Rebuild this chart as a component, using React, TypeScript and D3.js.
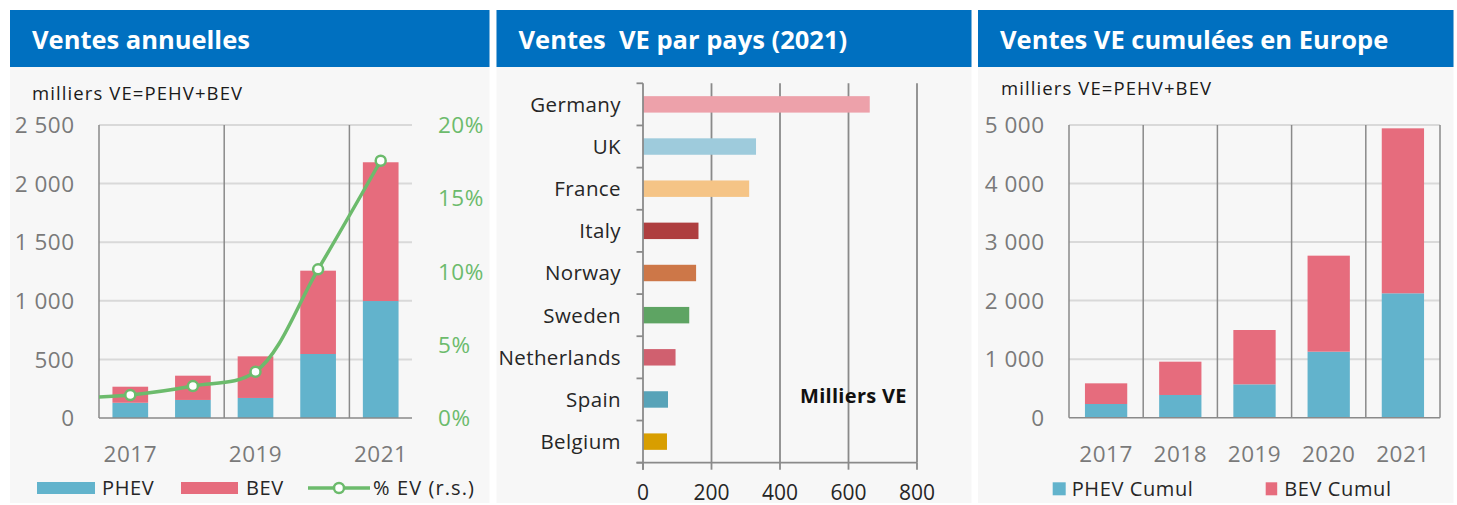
import React from "react";
import * as d3 from "d3";

// ---------- data ----------
const years = ["2017", "2018", "2019", "2020", "2021"];
const phevAnnual = [130, 154, 171, 546, 998];
const bevAnnual = [137, 207, 355, 711, 1184];
// % EV share (right scale); first value is 2016 (clipped at plot edge)
const shareYears = ["2016", "2017", "2018", "2019", "2020", "2021"];
const evShare = [1.35, 1.57, 2.18, 3.16, 10.15, 17.56];
const annualTicks = [0, 500, 1000, 1500, 2000, 2500];
const shareTicks = [0, 5, 10, 15, 20];
const annualXLabels = ["2017", "2019", "2021"];

const countries = ["Germany", "UK", "France", "Italy", "Norway", "Sweden", "Netherlands", "Spain", "Belgium"];
const countrySales = [662, 330, 310, 162, 155, 135, 95, 73, 70];
const countryColors = ["#eda1aa", "#9ecbdc", "#f5c486", "#ae3e3f", "#cd7748", "#5ea463", "#d0606f", "#58a3b8", "#d89e00"];
const countryTicks = [0, 200, 400, 600, 800];

const phevCumul = [234, 388, 570, 1128, 2125];
const bevCumul = [353, 569, 928, 1640, 2818];
const cumulTicks = [0, 1000, 2000, 3000, 4000, 5000];

// ---------- style ----------
const FONT = "'Open Sans', sans-serif";
const BLUE = "#0070c0";
const BG = "#f7f7f7";
const PHEV = "#62b3cc";
const BEV = "#e66c7d";
const GREEN = "#6cbb6c";
const GRID = "#d9d9d9";
const AXIS = "#8a8a8a";
const TICKTXT = "#7a7a7a";
const DARK = "#262626";

const TICK = { fontFamily: FONT, fontSize: 22.5, letterSpacing: 0.5 };
const LEG = { fontFamily: FONT, fontSize: 20, letterSpacing: 0.6 };
const NOTE = { fontFamily: FONT, fontSize: 18.5, letterSpacing: 1.1 };

const fmtSp = (v: number) => d3.format(",")(v).replace(/,/g, " ");

function Panel({ x, w, title }: { x: number; w: number; title: string }) {
  return (
    <g>
      <rect x={x} y={10} width={w} height={493} fill={BG} />
      <rect x={x} y={10} width={w} height={57} fill={BLUE} />
      <text x={x + 22} y={48.5} fill="#fff" fontFamily={FONT} fontWeight={700} fontSize={25.5} style={{ whiteSpace: "pre" }}>
        {title}
      </text>
    </g>
  );
}

function AnnualChart() {
  const x0 = 99, x1 = 412, yTop = 125, yBot = 418;
  const x = d3.scaleBand<string>().domain(years).range([x0, x1]).paddingInner(0.43).paddingOuter(0.215);
  const step = (x1 - x0) / years.length;
  const cx = (i: number) => x0 + step * (i + 0.5);
  const y = d3.scaleLinear().domain([0, 2500]).range([yBot, yTop]);
  const yr = d3.scaleLinear().domain([0, 20]).range([yBot, yTop]);
  const lineGen = d3
    .line<number>()
    .x((_, i) => cx(i - 1))
    .y((d) => yr(d))
    .curve(d3.curveCatmullRom.alpha(0.5));
  const boundaries = [0, 2, 4].map((i) => x0 + step * i);
  return (
    <g>
      <defs>
        <clipPath id="clip1">
          <rect x={x0} y={yTop - 10} width={x1 - x0 + 20} height={yBot - yTop + 20} />
        </clipPath>
      </defs>
      <text x={32} y={100} {...NOTE} fill="#1a1a1a">milliers VE=PEHV+BEV</text>
      {annualTicks.map((t) => (
        <g key={t}>
          {t > 0 && <line x1={x0} x2={x1} y1={y(t)} y2={y(t)} stroke={GRID} strokeWidth={2} />}
          <text x={74.5} y={y(t)} dy="0.36em" textAnchor="end" {...TICK} fill={TICKTXT}>
            {fmtSp(t)}
          </text>
        </g>
      ))}
      {shareTicks.map((t) => (
        <text key={t} x={438} y={yr(t)} dy="0.36em" {...TICK} fill={GREEN}>
          {t}%
        </text>
      ))}
      {boundaries.map((b, i) => (
        <line key={i} x1={b} x2={b} y1={yTop} y2={yBot} stroke={AXIS} strokeWidth={1.5} />
      ))}
      {years.map((yv, i) => (
        <g key={yv}>
          <rect x={x(yv)} y={y(phevAnnual[i])} width={x.bandwidth()} height={yBot - y(phevAnnual[i])} fill={PHEV} />
          <rect
            x={x(yv)}
            y={y(phevAnnual[i] + bevAnnual[i])}
            width={x.bandwidth()}
            height={y(phevAnnual[i]) - y(phevAnnual[i] + bevAnnual[i])}
            fill={BEV}
          />
        </g>
      ))}
      <line x1={x0} x2={x1} y1={yBot} y2={yBot} stroke={AXIS} strokeWidth={1.5} />
      <g clipPath="url(#clip1)">
        <path d={lineGen(evShare) || ""} fill="none" stroke={GREEN} strokeWidth={3.5} />
        {evShare.map((v, i) =>
          i === 0 ? null : <circle key={shareYears[i]} cx={cx(i - 1)} cy={yr(v)} r={5} fill="#fff" stroke={GREEN} strokeWidth={2.5} />
        )}
      </g>
      {annualXLabels.map((l) => (
        <text key={l} x={cx(years.indexOf(l))} y={453.5} dy="0.36em" textAnchor="middle" {...TICK} fill={TICKTXT}>
          {l}
        </text>
      ))}
      {/* legend */}
      <rect x={37} y={482} width={58} height={12} fill={PHEV} />
      <text x={102} y={488} dy="0.36em" {...LEG} fill={DARK}>PHEV</text>
      <rect x={181} y={482} width={57} height={12} fill={BEV} />
      <text x={246} y={488} dy="0.36em" {...LEG} fill={DARK}>BEV</text>
      <line x1={308} x2={370} y1={488} y2={488} stroke={GREEN} strokeWidth={3.5} />
      <circle cx={339} cy={488} r={5} fill="#fff" stroke={GREEN} strokeWidth={2.5} />
      <text x={373} y={488} dy="0.36em" {...LEG} letterSpacing={1.1} fill={DARK}>% EV (r.s.)</text>
    </g>
  );
}

function CountryChart() {
  const x0 = 643, x1 = 917, yTop = 83.3, yBot = 462.7;
  const x = d3.scaleLinear().domain([0, 800]).range([x0, x1]);
  const y = d3.scaleBand<string>().domain(countries).range([yTop, yBot]).paddingInner(0.61).paddingOuter(0.305);
  const step = (yBot - yTop) / countries.length;
  return (
    <g>
      {countryTicks.map((t) => (
        <g key={t}>
          {t > 0 && <line x1={x(t)} x2={x(t)} y1={yTop} y2={yBot} stroke={AXIS} strokeWidth={1.8} />}
          <line x1={x(t)} x2={x(t)} y1={yBot} y2={yBot + 7} stroke={AXIS} strokeWidth={1.8} />
          <text x={x(t)} y={492.5} dy="0.36em" textAnchor="middle" fontFamily={FONT} fontSize={21} fill={DARK}>
            {t}
          </text>
        </g>
      ))}
      {countries.map((c, i) => (
        <g key={c}>
          <rect x={x0} y={y(c)} width={x(countrySales[i]) - x0} height={y.bandwidth()} fill={countryColors[i]} />
          <text x={621} y={(y(c) || 0) + y.bandwidth() / 2} dy="0.36em" textAnchor="end" fontFamily={FONT} fontSize={20.5} letterSpacing={0.4} fill={DARK}>
            {c}
          </text>
        </g>
      ))}
      {d3.range(countries.length + 1).map((i) => (
        <line key={i} x1={x0 - 6.5} x2={x0} y1={yTop + step * i} y2={yTop + step * i} stroke={AXIS} strokeWidth={1.8} />
      ))}
      <line x1={x0} x2={x0} y1={yTop} y2={yBot + 7} stroke={AXIS} strokeWidth={1.8} />
      <line x1={x0 - 6.5} x2={x1} y1={yBot} y2={yBot} stroke={AXIS} strokeWidth={1.8} />
      <text x={800} y={396} dy="0.36em" fontFamily={FONT} fontWeight={700} fontSize={20} letterSpacing={0.3} fill="#111">Milliers VE</text>
    </g>
  );
}

function CumulChart() {
  const x0 = 1069, x1 = 1440, yTop = 125, yBot = 417.7;
  const x = d3.scaleBand<string>().domain(years).range([x0, x1]).paddingInner(0.43).paddingOuter(0.215);
  const step = (x1 - x0) / years.length;
  const y = d3.scaleLinear().domain([0, 5000]).range([yBot, yTop]);
  return (
    <g>
      <text x={1001} y={94.5} {...NOTE} fill="#1a1a1a">milliers VE=PEHV+BEV</text>
      {cumulTicks.map((t) => (
        <g key={t}>
          {t > 0 && <line x1={x0} x2={x1} y1={y(t)} y2={y(t)} stroke={GRID} strokeWidth={2} />}
          <text x={1044.5} y={y(t)} dy="0.36em" textAnchor="end" {...TICK} fill={TICKTXT}>
            {fmtSp(t)}
          </text>
        </g>
      ))}
      {d3.range(years.length + 1).map((i) => (
        <line key={i} x1={x0 + step * i} x2={x0 + step * i} y1={yTop} y2={yBot} stroke={AXIS} strokeWidth={1.5} />
      ))}
      {years.map((yv, i) => (
        <g key={yv}>
          <rect x={x(yv)} y={y(phevCumul[i])} width={x.bandwidth()} height={yBot - y(phevCumul[i])} fill={PHEV} />
          <rect
            x={x(yv)}
            y={y(phevCumul[i] + bevCumul[i])}
            width={x.bandwidth()}
            height={y(phevCumul[i]) - y(phevCumul[i] + bevCumul[i])}
            fill={BEV}
          />
          <text x={(x(yv) || 0) + x.bandwidth() / 2} y={453.5} dy="0.36em" textAnchor="middle" {...TICK} fill={TICKTXT}>
            {yv}
          </text>
        </g>
      ))}
      <line x1={x0} x2={x1} y1={yBot} y2={yBot} stroke={AXIS} strokeWidth={1.5} />
      <rect x={1052.7} y={482.3} width={13} height={13} fill={PHEV} />
      <text x={1071.7} y={489} dy="0.36em" {...LEG} fill={DARK}>PHEV Cumul</text>
      <rect x={1265.7} y={482.3} width={11.5} height={13} fill={BEV} />
      <text x={1284.3} y={489} dy="0.36em" {...LEG} fill={DARK}>BEV Cumul</text>
    </g>
  );
}

export default function App() {
  return (
    <svg width={1457} height={505} style={{ position: "absolute", left: 0, top: 0, background: "#fff" }}>
      <Panel x={10} w={479.5} title="Ventes annuelles" />
      <Panel x={496.5} w={475} title="Ventes  VE par pays (2021)" />
      <Panel x={978} w={475.5} title="Ventes VE cumulées en Europe" />
      <AnnualChart />
      <CountryChart />
      <CumulChart />
    </svg>
  );
}
